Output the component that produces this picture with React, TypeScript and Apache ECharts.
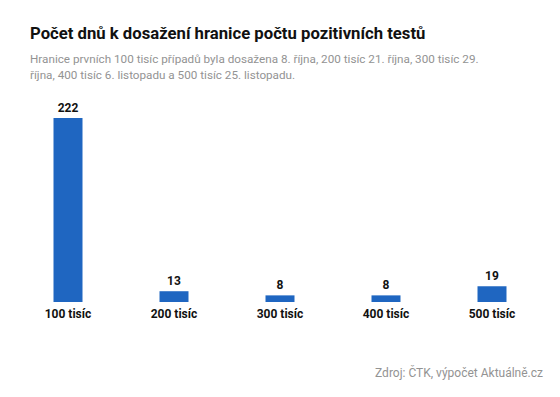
import React, { useEffect, useRef } from "react";
import * as echarts from "echarts";

const categories = ["100 tisíc", "200 tisíc", "300 tisíc", "400 tisíc", "500 tisíc"];
const days = [222, 13, 8, 8, 19];

const titleText = "Počet dnů k dosažení hranice počtu pozitivních testů";
const subtitleText =
  "Hranice prvních 100 tisíc případů byla dosažena 8. října, 200 tisíc 21. října, 300 tisíc 29.\nříjna, 400 tisíc 6. listopadu a 500 tisíc 25. listopadu.";
const sourceText = "Zdroj: ČTK, výpočet Aktuálně.cz";

const FONT = "Roboto, 'Noto Sans', sans-serif";

export default function App() {
  const ref = useRef<HTMLDivElement>(null);
  useEffect(() => {
    if (!ref.current) return;
    const chart = echarts.init(ref.current, null, { renderer: "svg" });
    chart.setOption({
      animation: false,
      backgroundColor: "#ffffff",
      title: [
        {
          text: titleText,
          left: 25,
          top: 20,
          textStyle: { fontFamily: FONT, fontWeight: "bold", fontSize: 16.7, color: "#111111" },
        },
        {
          text: subtitleText,
          left: 25,
          top: 46,
          textStyle: { fontFamily: FONT, fontWeight: "normal", fontSize: 11.7, color: "#939393", lineHeight: 16 },
        },
        {
          text: sourceText,
          right: 12,
          top: 362,
          textStyle: { fontFamily: FONT, fontWeight: "normal", fontSize: 12, color: "#939393" },
        },
      ],
      grid: { left: 15, right: 15, top: 118, bottom: 95, containLabel: false },
      xAxis: {
        type: "category",
        data: categories,
        axisLine: { show: false },
        axisTick: { show: false },
        axisLabel: { fontFamily: FONT, fontWeight: "bold", fontSize: 12, color: "#111111", margin: 6 },
      },
      yAxis: {
        type: "value",
        min: 0,
        max: 222,
        show: false,
        splitLine: { show: false },
      },
      series: [
        {
          type: "bar",
          data: days,
          barWidth: 29,
          itemStyle: { color: "#1f66c1" },
          label: {
            show: true,
            position: "top",
            distance: 4,
            fontFamily: FONT,
            fontWeight: "bold",
            fontSize: 12,
            color: "#111111",
          },
        },
      ],
    });
    return () => chart.dispose();
  }, []);
  return (
    <div
      ref={ref}
      style={{ position: "fixed", left: 0, top: 0, width: 560, height: 397 }}
    />
  );
}
